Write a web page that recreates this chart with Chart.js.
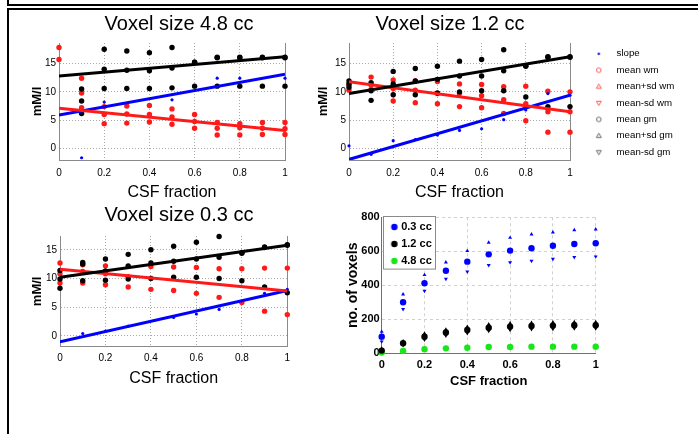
<!DOCTYPE html>
<html><head><meta charset="utf-8">
<script src="https://cdn.jsdelivr.net/npm/chart.js@4.4.1/dist/chart.umd.min.js"></script>
<style>
html,body{margin:0;padding:0;background:#fff;width:698px;height:434px;overflow:hidden;position:relative}
canvas{position:absolute}
.f{position:absolute;background:#000}
</style></head><body>
<div class="f" style="left:7px;top:0;width:2px;height:6px"></div>
<div class="f" style="left:7px;top:4px;width:691px;height:2px"></div>
<div class="f" style="left:7px;top:8px;width:691px;height:2px"></div>
<div class="f" style="left:7px;top:8px;width:2px;height:426px"></div>
<canvas id="c1" width="338" height="195" style="left:10px;top:10px"></canvas>
<canvas id="c2" width="496" height="204" style="left:202px;top:1px"></canvas>
<canvas id="c3" width="338" height="190" style="left:10px;top:201px"></canvas>
<canvas id="c4" width="368" height="190" style="left:330px;top:205px"></canvas>
<script>
Chart.defaults.font.family = '"Liberation Sans", Arial, Helvetica, sans-serif';
Chart.defaults.color = '#000';
Chart.defaults.animation = false;

// ---------- data ----------
const csf = [0, 0.1, 0.2, 0.3, 0.4, 0.5, 0.6, 0.7, 0.8, 0.9, 1];
const xTicks = [0, 0.2, 0.4, 0.6, 0.8, 1];
const xTickLabels = ['0', '0.2', '0.4', '0.6', '0.8', '1'];
const mmTicks = [0, 5, 10, 15];
const voxTicks = [0, 200, 400, 600, 800];
const titles = ['Voxel size 4.8 cc', 'Voxel size 1.2 cc', 'Voxel size 0.3 cc'];
const legendLabels = ['slope', 'mean wm', 'mean+sd wm', 'mean-sd wm', 'mean gm', 'mean+sd gm', 'mean-sd gm'];
const voxLabels = ['0.3 cc', '1.2 cc', '4.8 cc'];

// Voxel size 4.8 cc
const slope48  = [null, -1.6, 8.2, null, null, 8.6, null, 12.4, 12.4, null, 12.4];
const wmMean48 = [15.7, 9.8, 6.0, 6.1, 6.0, 5.6, 4.8, 3.6, 3.7, 3.6, 3.5];
const wmUp48   = [17.8, 12.4, 7.4, 7.5, 7.6, 7.0, 6.0, 4.6, 4.4, 4.6, 4.6];
const wmDown48 = [null, 7.2, 4.4, 4.5, 4.7, 4.3, 3.6, 2.4, 2.4, 2.5, 2.5];
const gmMean48 = [null, 8.4, 14.0, 13.8, 13.7, 14.2, 15.2, 16.0, 16.0, 16.0, 16.0];
const gmUp48   = [null, 10.5, 17.5, 17.2, 16.9, 17.8, 15.2, 16.1, 16.1, 16.1, 16.1];
const gmDown48 = [null, 6.2, 10.6, 10.6, 10.6, 10.7, 11.0, 11.0, 11.0, 11.0, 11.0];
const fitSlope48 = [5.9, 13.1];
const fitWm48 = [7.1, 3.2];
const fitGm48 = [12.8, 16.2];

// Voxel size 1.2 cc
const slope12  = [0.5, -1.0, 1.4, 1.6, 2.4, 3.2, 3.5, 5.1, 6.8, 9.7, 9.4];
const wmMean12 = [10.3, 11.2, 10.6, 10.3, 9.7, 9.7, 9.3, 8.6, 7.9, 6.5, 6.5];
const wmUp12   = [11.3, 12.6, 12.1, 11.9, 11.8, 11.4, 11.3, 10.9, 11.0, 10.1, 10.0];
const wmDown12 = [null, 10.4, 8.4, 8.1, 7.9, 7.4, 7.2, 6.2, 4.9, 2.9, 2.9];
const gmMean12 = [11.4, 10.2, 11.4, 11.9, 12.2, 12.8, 12.8, 13.7, 14.5, 16.1, 16.1];
const gmUp12   = [11.9, 11.6, 13.6, 14.1, 14.5, 15.4, 15.7, 17.4, 14.6, 16.2, 16.2];
const gmDown12 = [10.8, 8.5, 9.5, 9.5, 9.8, 10.0, 10.2, 10.2, 9.1, 7.4, 7.4];
const fitSlope12 = [-1.9, 9.4];
const fitWm12 = [11.8, 6.5];
const fitGm12 = [9.7, 16.2];

// Voxel size 0.3 cc
const slope03  = [null, 0.4, 0.8, 1.7, null, 3.2, 3.8, 4.6, null, 7.4, 8.1];
const wmMean03 = [10.8, 11.2, 10.8, 10.3, null, null, null, null, null, null, null];
const wmUp03   = [12.7, 12.4, 12.2, null, 12.1, 12.0, 11.9, 11.7, 11.7, 11.8, 11.8];
const wmDown03 = [9.2, 9.2, 8.9, 8.5, 8.1, 7.9, 7.4, 6.7, 5.8, 4.3, 3.7];
const gmMean03 = [9.9, 12.5, 11.3, 12.2, 12.7, 13.0, 13.4, 13.7, 14.4, 15.4, 15.8];
const gmUp03   = [11.4, 12.8, 13.4, 14.2, 15.0, 15.6, 16.3, 17.3, 14.5, 15.5, 15.9];
const gmDown03 = [8.3, 9.6, 9.7, 9.9, 10.0, 10.2, 10.2, 10.0, 9.6, 8.5, 7.5];
const fitSlope03 = [-1.05, 7.9];
const fitWm03 = [11.6, 7.8];
const fitGm03 = [10.2, 15.8];

// no. of voxels
const vox03Mean = [98, 300, 412, 486, 539, 582, 604, 618, 633, 643, 647];
const vox03Up   = [127, 347, 461, 535, 602, 651, 680, 700, 712, 725, 729];
const vox03Down = [69, 259, 367, 437, 480, 518, 535, 543, 555, 565, 569];
const vox12Mean = [16, 59, 98, 122, 137, 151, 157, 161, 163, 165, 165];
const vox12Up   = [24, 66, 112, 136, 152, 166, 172, 176, 178, 180, 180];
const vox12Down = [8, 52, 84, 108, 122, 136, 142, 146, 148, 150, 150];
const vox48Mean = [4, 14, 24, 29, 33, 37, 37, 39, 39, 39, 39];
const vox48Up   = [7, 17, 27, 32, 36, 40, 40, 42, 42, 42, 42];
const vox48Down = [1, 11, 21, 26, 30, 34, 34, 36, 36, 36, 36];

// ---------- helpers ----------
const RED = '#ff1a1a', BLUE = '#0000ff', BLACK = '#000000', GREEN = '#19e619';
const toPts = arr => arr.map((v, i) => v == null ? null : {x: csf[i], y: v}).filter(p => p);
const fitPts = f => [{x: csf[0], y: f[0]}, {x: csf[csf.length - 1], y: f[1]}];

function ptDs(label, arr, color, r, order, style, rot) {
  return {label, data: toPts(arr), backgroundColor: color, borderColor: color, borderWidth: 0,
    pointRadius: r, pointHoverRadius: r, pointStyle: style || 'circle', rotation: rot || 0,
    showLine: false, order, clip: false};
}
function fitDs(label, f, color) {
  return {label, data: fitPts(f), borderColor: color, backgroundColor: color, borderWidth: 3,
    pointRadius: 0, showLine: true, order: 0};
}
function sym(kind, color, fill, r, w, h, cx) {
  const c = document.createElement('canvas'); c.width = w; c.height = h;
  const g = c.getContext('2d');
  g.strokeStyle = color; g.fillStyle = color; g.lineWidth = 1;
  const cy = h / 2;
  g.beginPath();
  if (kind === 'circle') g.arc(cx, cy, r, 0, 2 * Math.PI);
  else if (kind === 'up') { g.moveTo(cx, cy - r); g.lineTo(cx + r * 0.95, cy + r * 0.65); g.lineTo(cx - r * 0.95, cy + r * 0.65); g.closePath(); }
  else { g.moveTo(cx, cy + r); g.lineTo(cx + r * 0.95, cy - r * 0.65); g.lineTo(cx - r * 0.95, cy - r * 0.65); g.closePath(); }
  if (fill) g.fill(); else g.stroke();
  return c;
}
const defGen = Chart.defaults.plugins.legend.labels.generateLabels;

function xScale(o) {
  return {
    type: 'linear', min: 0, max: 1,
    afterBuildTicks: s => { s.ticks = xTicks.map(v => ({value: v})); },
    afterFit: s => { s.height = o.h; },
    grid: {drawTicks: false, color: o.gridColor, lineWidth: 1},
    border: {color: o.borderColor, dash: o.dash},
    ticks: {padding: o.tickPad, font: o.tickFont, maxRotation: 0, autoSkip: false,
      callback: (v, i) => xTickLabels[i]},
    title: {display: true, text: 'CSF fraction', font: o.titleFont, padding: {top: 0, bottom: o.titlePadB}}
  };
}

function mmChart(id, d, o) {
  const datasets = [
    fitDs('fit gm', d.fitGm, BLACK), fitDs('fit wm', d.fitWm, RED), fitDs('fit slope', d.fitSlope, BLUE),
    ptDs(legendLabels[0], d.slope, BLUE, 1.6, 1),
    ptDs(legendLabels[1], d.wmMean, RED, 2.7, 3),
    ptDs(legendLabels[2], d.wmUp, RED, 2.7, 3),
    ptDs(legendLabels[3], d.wmDown, RED, 2.7, 3),
    ptDs(legendLabels[4], d.gmMean, BLACK, 2.7, 2),
    ptDs(legendLabels[5], d.gmUp, BLACK, 2.7, 2),
    ptDs(legendLabels[6], d.gmDown, BLACK, 2.7, 2)
  ];
  const legend = o.legend || {display: false};
  const side = o.side || 0;
  return new Chart(document.getElementById(id), {
    type: 'scatter',
    data: {datasets},
    options: {
      responsive: false, animation: false, events: [],
      layout: {padding: {left: side, right: side, top: 0, bottom: 0}},
      plugins: {
        title: {display: true, text: o.title, font: {size: 20, weight: 'normal'}, color: '#000',
          padding: {top: o.tPadT, bottom: o.tPadB}},
        legend, tooltip: {enabled: false}
      },
      scales: {
        x: xScale({h: o.xh, gridColor: '#a8a8a8', borderColor: '#8a8a8a', dash: [1, 2], tickPad: o.xTickPad,
          tickFont: {size: 10}, titleFont: {size: 16}, titlePadB: 2.4}),
        y: {
          type: 'linear', min: o.ymin, max: o.ymax, position: 'left',
          afterBuildTicks: s => { s.ticks = mmTicks.map(v => ({value: v})); },
          afterFit: s => { s.width = o.yw - side; },
          grid: {drawTicks: false, color: '#a8a8a8'},
          border: {color: '#8a8a8a', dash: [1, 2]},
          ticks: {padding: 3, font: {size: 10}},
          title: {display: true, text: 'mM/l', font: {size: 13, weight: 'bold'}, padding: {top: o.yTitlePad - side, bottom: 0}}
        },
        y2: {
          type: 'linear', min: o.ymin, max: o.ymax, position: 'right',
          afterFit: s => { s.width = o.rightGap; },
          grid: {display: false}, ticks: {display: false},
          border: {display: true, color: '#8a8a8a'}
        }
      }
    }
  });
}

// ---------- panel 1 ----------
mmChart('c1', {slope: slope48, wmMean: wmMean48, wmUp: wmUp48, wmDown: wmDown48,
  gmMean: gmMean48, gmUp: gmUp48, gmDown: gmDown48, fitSlope: fitSlope48, fitWm: fitWm48, fitGm: fitGm48},
  {title: titles[0], rightGap: 63, tPadT: 2, tPadB: 7, xh: 45, xTickPad: 7, yw: 49, yTitlePad: 19.2, ymin: -2, ymax: 18.6});

// ---------- panel 2 (with legend) ----------
const LFONT = 9.7, LPAD = 6.7, LBOX = 35;
const legSyms = [
  sym('circle', BLUE, true, 1.2, 24, 10, 16.6),
  sym('circle', '#ff5555', false, 2.3, 24, 10, 16.6),
  sym('up', '#ff5555', false, 2.6, 24, 10, 16.6),
  sym('down', '#ff5555', false, 2.6, 24, 10, 16.6),
  sym('circle', '#666', false, 2.3, 24, 10, 16.6),
  sym('up', '#666', false, 2.6, 24, 10, 16.6),
  sym('down', '#666', false, 2.6, 24, 10, 16.6)
];
const mctx = document.createElement('canvas').getContext('2d');
mctx.font = LFONT + 'px "Liberation Sans", Arial, Helvetica, sans-serif';
const maxTW = Math.max(...legendLabels.map(t => mctx.measureText(t).width));
const legW = LPAD + LBOX + LFONT / 2 + maxTW + 10;
mmChart('c2', {slope: slope12, wmMean: wmMean12, wmUp: wmUp12, wmDown: wmDown12,
  gmMean: gmMean12, gmUp: gmUp12, gmDown: gmDown12, fitSlope: fitSlope12, fitWm: fitWm12, fitGm: fitGm12},
  {title: titles[1], rightGap: 0, side: Math.max(0, 128 - legW), tPadT: 11, tPadB: 7, xh: 45, xTickPad: 7, yw: 147, yTitlePad: 114, ymin: -2, ymax: 18.6,
   legend: {display: true, position: 'right', align: 'center', maxWidth: 400, fullSize: true,
     labels: {usePointStyle: true, pointStyleWidth: LBOX, padding: LPAD, font: {size: LFONT}, color: '#000',
       filter: item => legendLabels.includes(item.text),
       generateLabels: chart => defGen(chart).sort((a, b) => a.datasetIndex - b.datasetIndex)
         .map(it => Object.assign(it, {pointStyle: legSyms[legendLabels.indexOf(it.text)] || it.pointStyle, rotation: 0}))
     }}});

// ---------- panel 3 ----------
mmChart('c3', {slope: slope03, wmMean: wmMean03, wmUp: wmUp03, wmDown: wmDown03,
  gmMean: gmMean03, gmUp: gmUp03, gmDown: gmDown03, fitSlope: fitSlope03, fitWm: fitWm03, fitGm: fitGm03},
  {title: titles[2], rightGap: 60.7, tPadT: 2, tPadB: 9, xh: 44.3, xTickPad: 5.6, yw: 50, yTitlePad: 19.2, ymin: -1.9, ymax: 17.4});

// ---------- panel 4 ----------
const voxSyms = [
  sym('circle', BLUE, true, 3.2, 16, 10, 10.6),
  sym('circle', BLACK, true, 3.2, 16, 10, 10.6),
  sym('circle', GREEN, true, 3.2, 16, 10, 10.6)
];
const legendBoxPlugin = {
  id: 'legendBox',
  afterLayout(chart) {
    const lg = chart.legend, ca = chart.chartArea;
    if (!lg) return;
    lg.top = ca.top - 1.8; lg.bottom = ca.bottom; lg.left = ca.left;
    lg.adjustHitBoxes && lg.adjustHitBoxes();
  },
  beforeDatasetsDraw(chart) {
    const lg = chart.legend, ca = chart.chartArea, ctx = chart.ctx;
    if (!lg) return;
    ctx.save();
    ctx.fillStyle = '#fff'; ctx.strokeStyle = '#8a8a8a'; ctx.lineWidth = 1;
    ctx.fillRect(ca.left + 1, ca.top - 1.6, 52.3, 52.6);
    ctx.strokeRect(Math.round(ca.left + 1) + 0.5, Math.round(ca.top - 1.6) + 0.5, 52, 52.6);
    ctx.restore();
    lg.draw();
  }
};
new Chart(document.getElementById('c4'), {
  type: 'scatter',
  data: {datasets: [
    ptDs(voxLabels[0], vox03Mean, BLUE, 3.2, 1),
    ptDs(voxLabels[1], vox12Mean, BLACK, 3.2, 1),
    ptDs(voxLabels[2], vox48Mean, GREEN, 3.2, 1),
    ptDs('0.3 cc +sd', vox03Up, BLUE, 2.3, 2, 'triangle', 0),
    ptDs('0.3 cc -sd', vox03Down, BLUE, 2.3, 2, 'triangle', 180),
    ptDs('1.2 cc +sd', vox12Up, BLACK, 3, 2, 'triangle', 0),
    ptDs('1.2 cc -sd', vox12Down, BLACK, 3, 2, 'triangle', 180),
    ptDs('4.8 cc +sd', vox48Up, GREEN, 2.3, 2, 'triangle', 0),
    ptDs('4.8 cc -sd', vox48Down, GREEN, 2.3, 2, 'triangle', 180)
  ]},
  options: {
    responsive: false, animation: false, events: [],
    layout: {padding: {left: 0, right: 102.3, top: 12.3, bottom: 0}},
    plugins: {
      title: {display: false},
      tooltip: {enabled: false},
      legend: {display: true, position: 'chartArea', align: 'start',
        labels: {usePointStyle: true, pointStyleWidth: 8, padding: 6, font: {size: 11, weight: 'bold'}, color: '#000',
          filter: item => voxLabels.includes(item.text),
          generateLabels: chart => defGen(chart).sort((a, b) => a.datasetIndex - b.datasetIndex)
            .map(it => Object.assign(it, {pointStyle: voxSyms[voxLabels.indexOf(it.text)] || it.pointStyle, rotation: 0}))
        }}
    },
    scales: {
      x: xScale({h: 41.7, gridColor: '#d0d0d0', borderColor: '#707070', dash: [3, 3], tickPad: 5.1,
        tickFont: {size: 11, weight: 'bold'}, titleFont: {size: 13, weight: 'bold'}, titlePadB: 5.5}),
      y: {
        type: 'linear', min: 0, max: 800,
        afterBuildTicks: s => { s.ticks = voxTicks.map(v => ({value: v})); },
        afterFit: s => { s.width = 51.7; },
        grid: {drawTicks: false, color: '#d0d0d0'},
        border: {color: '#707070', dash: [3, 3]},
        ticks: {padding: 2, font: {size: 11, weight: 'bold'}},
        title: {display: true, text: 'no. of voxels', font: {size: 14, weight: 'bold'}, padding: {top: 15.1, bottom: 0}}
      }
    }
  },
  plugins: [legendBoxPlugin]
});
</script>
</body></html>
